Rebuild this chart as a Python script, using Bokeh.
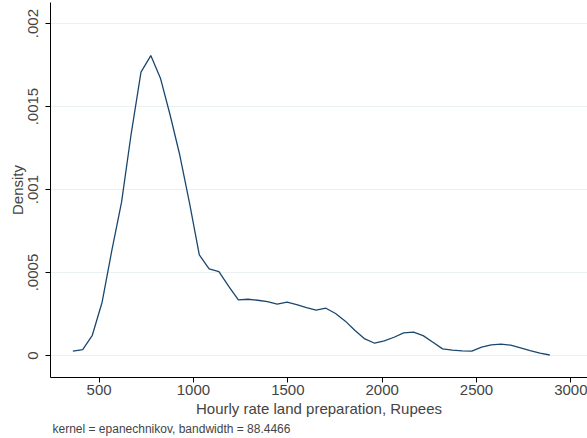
from bokeh.plotting import figure
from bokeh.models import FixedTicker, Title, Range1d
from bokeh.embed import file_html
from bokeh.resources import INLINE

# Data (kernel density estimate, 50 points)
rate = [361, 413, 464, 516, 567, 619, 670, 722, 774, 825,
        877, 928, 980, 1031, 1083, 1135, 1186, 1238, 1289, 1341,
        1392, 1444, 1496, 1547, 1599, 1650, 1702, 1753, 1805, 1856,
        1908, 1960, 2011, 2063, 2114, 2166, 2217, 2269, 2320, 2372,
        2424, 2475, 2527, 2578, 2630, 2681, 2733, 2784, 2836, 2888]
density = [0.000026, 0.000036, 0.000122, 0.000321, 0.000630, 0.000924, 0.001336, 0.001707, 0.001807, 0.001671,
           0.001446, 0.001205, 0.000914, 0.000606, 0.000522, 0.000506, 0.000418, 0.000335, 0.000339, 0.000333,
           0.000325, 0.000309, 0.000321, 0.000307, 0.000289, 0.000273, 0.000285, 0.000253, 0.000207, 0.000151,
           0.000100, 0.000074, 0.000088, 0.000110, 0.000136, 0.000141, 0.000120, 0.000080, 0.000040, 0.000032,
           0.000028, 0.000026, 0.000050, 0.000064, 0.000068, 0.000062, 0.000046, 0.000030, 0.000014, 0.000003]

x_ticks = [500, 1000, 1500, 2000, 2500, 3000]
y_ticks = [0, 0.0005, 0.001, 0.0015, 0.002]
y_tick_labels = ["0", ".0005", ".001", ".0015", ".002"]

x_title = "Hourly rate land preparation, Rupees"
y_title = "Density"
note = "kernel = epanechnikov, bandwidth = 88.4466"

FONT = "Liberation Sans"

p = figure(width=587, height=438, output_backend="svg", toolbar_location=None,
           x_range=Range1d(242.5, 3088), y_range=Range1d(-0.0001325, 0.002127),
           min_border_left=50, min_border_right=0, min_border_top=2, min_border_bottom=61)
p.outline_line_color = None
p.background_fill_color = "white"
p.border_fill_color = "white"

p.line(rate, density, line_color="#1a476f", line_width=1.3)

p.xgrid.visible = False
p.ygrid.ticker = FixedTicker(ticks=y_ticks)
p.ygrid.grid_line_color = "#e8f0f2"
p.ygrid.grid_line_width = 1

xa = p.xaxis[0]
xa.ticker = FixedTicker(ticks=x_ticks)
xa.axis_label = x_title
xa.axis_label_text_font = FONT
xa.axis_label_text_font_style = "normal"
xa.axis_label_text_font_size = "15px"
xa.axis_label_standoff = 2
xa.major_label_text_font = FONT
xa.major_label_text_font_size = "15px"
xa.major_label_standoff = 2
xa.major_tick_out = 5
xa.major_tick_in = 0
xa.minor_tick_out = 0
xa.minor_tick_in = 0
xa.axis_line_color = "black"
xa.major_tick_line_color = "black"

ya = p.yaxis[0]
ya.ticker = FixedTicker(ticks=y_ticks)
ya.major_label_overrides = {t: l for t, l in zip(y_ticks, y_tick_labels)}
ya.major_label_orientation = "vertical"
ya.axis_label = y_title
ya.axis_label_text_font = FONT
ya.axis_label_text_font_style = "normal"
ya.axis_label_text_font_size = "15px"
ya.axis_label_standoff = 0
ya.major_label_text_font = FONT
ya.major_label_text_font_size = "15px"
ya.major_label_standoff = 7
ya.major_tick_out = 5
ya.major_tick_in = 0
ya.minor_tick_out = 0
ya.minor_tick_in = 0
ya.axis_line_color = "black"
ya.major_tick_line_color = "black"

p.add_layout(Title(text=note, align="left", text_font=FONT, text_font_size="12px",
                   text_font_style="normal", offset=2, standoff=0), "below")

open("out.html", "w").write(file_html(p, INLINE))
